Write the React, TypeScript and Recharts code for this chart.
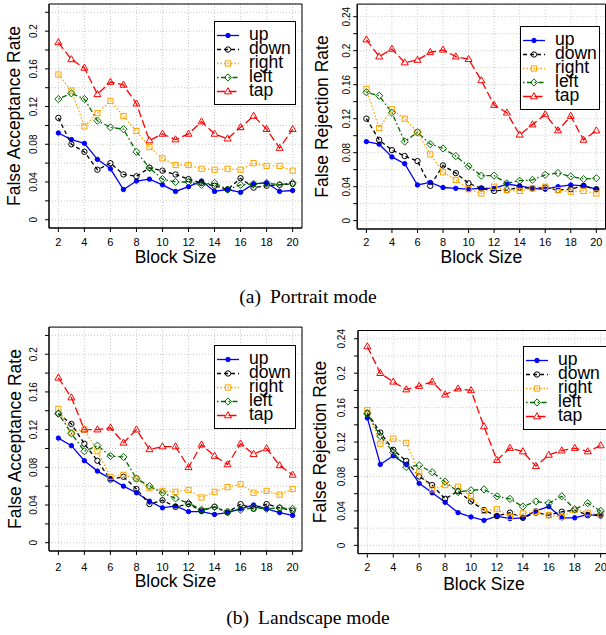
import React from "react";
import { LineChart, Line, XAxis, YAxis, CartesianGrid, Legend, ReferenceArea } from "recharts";

const blockSizes = [2, 3, 4, 5, 6, 7, 8, 9, 10, 11, 12, 13, 14, 15, 16, 17, 18, 19, 20];
const xTicks = [2, 4, 6, 8, 10, 12, 14, 16, 18, 20];

const farTicks = [0, 0.02, 0.04, 0.06, 0.08, 0.1, 0.12, 0.14, 0.16, 0.18, 0.2, 0.22];
const farLabels = [0, 0.04, 0.08, 0.12, 0.16, 0.2];
const frrTicks = [0, 0.02, 0.04, 0.06, 0.08, 0.1, 0.12, 0.14, 0.16, 0.18, 0.2, 0.22, 0.24];
const frrLabels = [0, 0.04, 0.08, 0.12, 0.16, 0.2, 0.24];

// (a) portrait - false acceptance
const farPortraitUp = [0.092, 0.085, 0.081, 0.064, 0.054, 0.032, 0.041, 0.043, 0.037, 0.030, 0.035, 0.041, 0.030, 0.032, 0.029, 0.038, 0.039, 0.030, 0.031];
const farPortraitDown = [0.108, 0.080, 0.072, 0.053, 0.060, 0.048, 0.046, 0.055, 0.052, 0.048, 0.043, 0.039, 0.036, 0.032, 0.044, 0.034, 0.036, 0.037, 0.038];
const farPortraitRight = [0.154, 0.137, 0.099, 0.113, 0.126, 0.110, 0.094, 0.077, 0.065, 0.058, 0.058, 0.054, 0.053, 0.054, 0.053, 0.060, 0.057, 0.057, 0.052];
const farPortraitLeft = [0.128, 0.134, 0.128, 0.105, 0.098, 0.096, 0.072, 0.055, 0.043, 0.040, 0.040, 0.037, 0.039, 0.032, 0.037, 0.038, 0.039, 0.037, 0.039];
const farPortraitTap = [0.188, 0.170, 0.161, 0.133, 0.146, 0.143, 0.123, 0.084, 0.091, 0.085, 0.091, 0.104, 0.091, 0.086, 0.098, 0.110, 0.096, 0.076, 0.096];

// (a) portrait - false rejection
const frrPortraitUp = [0.093, 0.090, 0.075, 0.067, 0.042, 0.045, 0.039, 0.038, 0.037, 0.038, 0.038, 0.043, 0.041, 0.038, 0.037, 0.040, 0.042, 0.041, 0.037];
const frrPortraitDown = [0.120, 0.095, 0.083, 0.076, 0.070, 0.041, 0.065, 0.056, 0.044, 0.038, 0.035, 0.036, 0.039, 0.038, 0.039, 0.036, 0.037, 0.041, 0.037];
const frrPortraitRight = [0.155, 0.109, 0.131, 0.120, 0.104, 0.078, 0.057, 0.048, 0.037, 0.032, 0.040, 0.036, 0.035, 0.038, 0.040, 0.036, 0.034, 0.035, 0.032];
const frrPortraitLeft = [0.151, 0.147, 0.127, 0.093, 0.104, 0.090, 0.085, 0.076, 0.064, 0.053, 0.053, 0.044, 0.047, 0.048, 0.054, 0.056, 0.052, 0.049, 0.050];
const frrPortraitTap = [0.213, 0.193, 0.202, 0.186, 0.189, 0.198, 0.201, 0.193, 0.190, 0.165, 0.136, 0.127, 0.101, 0.113, 0.125, 0.106, 0.123, 0.095, 0.106];

// (b) landscape - false acceptance
const farLandUp = [0.111, 0.103, 0.087, 0.076, 0.068, 0.060, 0.053, 0.044, 0.037, 0.039, 0.033, 0.033, 0.030, 0.032, 0.036, 0.040, 0.036, 0.032, 0.029];
const farLandDown = [0.137, 0.126, 0.105, 0.087, 0.067, 0.070, 0.057, 0.041, 0.045, 0.038, 0.041, 0.034, 0.038, 0.032, 0.041, 0.036, 0.041, 0.037, 0.034];
const farLandRight = [0.142, 0.117, 0.120, 0.097, 0.070, 0.072, 0.068, 0.058, 0.055, 0.054, 0.056, 0.048, 0.054, 0.059, 0.062, 0.053, 0.055, 0.051, 0.057];
const farLandLeft = [0.137, 0.116, 0.097, 0.103, 0.092, 0.091, 0.068, 0.060, 0.053, 0.047, 0.042, 0.035, 0.038, 0.033, 0.035, 0.037, 0.036, 0.037, 0.036];
const farLandTap = [0.175, 0.154, 0.120, 0.120, 0.122, 0.106, 0.120, 0.099, 0.102, 0.102, 0.080, 0.104, 0.092, 0.083, 0.105, 0.094, 0.100, 0.082, 0.072];

// (b) landscape - false rejection
const frrLandUp = [0.148, 0.094, 0.104, 0.094, 0.072, 0.061, 0.050, 0.038, 0.033, 0.029, 0.034, 0.031, 0.032, 0.040, 0.045, 0.032, 0.032, 0.036, 0.034];
const frrLandDown = [0.154, 0.131, 0.111, 0.098, 0.080, 0.070, 0.054, 0.063, 0.051, 0.041, 0.034, 0.038, 0.032, 0.038, 0.035, 0.039, 0.041, 0.035, 0.036];
const frrLandRight = [0.157, 0.118, 0.124, 0.119, 0.085, 0.065, 0.070, 0.068, 0.057, 0.040, 0.042, 0.033, 0.037, 0.039, 0.035, 0.033, 0.041, 0.038, 0.036];
const frrLandLeft = [0.153, 0.127, 0.108, 0.091, 0.093, 0.085, 0.074, 0.062, 0.064, 0.065, 0.057, 0.054, 0.045, 0.051, 0.049, 0.057, 0.042, 0.049, 0.040];
const frrLandTap = [0.231, 0.200, 0.190, 0.181, 0.185, 0.190, 0.175, 0.182, 0.180, 0.138, 0.099, 0.113, 0.109, 0.092, 0.105, 0.110, 0.113, 0.109, 0.116];

const SERIES = [
    { key: "up", color: "#0000FF", dash: undefined, shape: "dot" },
    { key: "down", color: "#000000", dash: "4 3", shape: "circle" },
    { key: "right", color: "#FFA500", dash: "1.5 2", shape: "square" },
    { key: "left", color: "#006a00", dash: "1.5 2.5 5 2.5", shape: "diamond" },
    { key: "tap", color: "#FF0000", dash: "8 3.5", shape: "triangle" },
];

const buildRows = (up: number[], down: number[], right: number[], left: number[], tap: number[]) =>
    blockSizes.map((b, i) => ({ block: b, up: up[i], down: down[i], right: right[i], left: left[i], tap: tap[i] }));

const Marker = ({ cx, cy, shape, color }: { cx: number; cy: number; shape: string; color: string }) => {
    if (cx == null || cy == null) return null;
    switch (shape) {
        case "dot":
            return <circle cx={cx} cy={cy} r={2.2} fill={color} stroke={color} />;
        case "circle":
            return <circle cx={cx} cy={cy} r={2.7} fill="none" stroke={color} strokeWidth={1} />;
        case "square":
            return <rect x={cx - 2.6} y={cy - 2.6} width={5.2} height={5.2} fill="none" stroke={color} strokeWidth={1} />;
        case "diamond":
            return <polygon points={`${cx},${cy - 3.6} ${cx + 3.6},${cy} ${cx},${cy + 3.6} ${cx - 3.6},${cy}`} fill="none" stroke={color} strokeWidth={1} />;
        default:
            return <polygon points={`${cx},${cy - 3.8} ${cx + 3.5},${cy + 2.3} ${cx - 3.5},${cy + 2.3}`} fill="none" stroke={color} strokeWidth={1} />;
    }
};

const LegendBox = ({ width }: { width: number }) => (
    <svg width={width} height={84} style={{ display: "block" }}>
        <rect x={0.5} y={0.5} width={width - 1} height={83} fill="#fff" stroke="#000" />
        {SERIES.map((s, i) => {
            const y = 14.5 + i * 14;
            return (
                <g key={s.key}>
                    <line x1={3} x2={25} y1={y} y2={y} stroke={s.color} strokeWidth={1.3} strokeDasharray={s.dash} />
                    <Marker cx={14} cy={y} shape={s.shape} color={s.color} />
                    <text x={35} y={y + 4.6} fontSize={17.5} fill="#000">{s.key}</text>
                </g>
            );
        })}
    </svg>
);

const YTick = (props: any) => {
    const { y, payload, labels, tx } = props;
    if (!labels.includes(payload.value)) return <g />;
    return (
        <text x={tx} y={y} dy="0.355em" textAnchor="middle" fontSize={10} fill="#000" transform={`rotate(-90 ${tx} ${y})`}>
            {String(payload.value)}
        </text>
    );
};

const panels = [
    {
        id: "a-far", left: 0, top: 0, width: 303, height: 275, margin: { top: 4, right: 1, bottom: 0, left: 0 }, yWidth: 49, xHeight: 47,
        yDomain: [-0.0088, 0.2288], ticks: farTicks, labels: farLabels, yTickX: 33.8, yTitleX: 13.5,
        xTickMargin: 6.4, xLabelOffset: 11.7, legend: { left: 214, top: 21, width: 82 },
        title: "False Acceptance Rate",
        data: buildRows(farPortraitUp, farPortraitDown, farPortraitRight, farPortraitLeft, farPortraitTap),
    },
    {
        id: "a-frr", left: 303, top: 0, width: 303, height: 275, margin: { top: 4.1, right: 0.5, bottom: 0, left: 0 }, yWidth: 54.2, xHeight: 46,
        yDomain: [-0.0098, 0.2548], ticks: frrTicks, labels: frrLabels, yTickX: 43.3, yTitleX: 19.2,
        xTickMargin: 5.4, xLabelOffset: 11.7, legend: { left: 216.7, top: 25.7, width: 80 },
        title: "False Rejection Rate",
        data: buildRows(frrPortraitUp, frrPortraitDown, frrPortraitRight, frrPortraitLeft, frrPortraitTap),
    },
    {
        id: "b-far", left: 0, top: 320, width: 303, height: 280, margin: { top: 7.1, right: 1, bottom: 0, left: 0 }, yWidth: 49, xHeight: 49,
        yDomain: [-0.0088, 0.2288], ticks: farTicks, labels: farLabels, yTickX: 33.7, yTitleX: 14.5,
        xTickMargin: 7.8, xLabelOffset: 13.3, legend: { left: 214.3, top: 25, width: 82 },
        title: "False Acceptance Rate",
        data: buildRows(farLandUp, farLandDown, farLandRight, farLandLeft, farLandTap),
    },
    {
        id: "b-frr", left: 303, top: 320, width: 310, height: 280, margin: { top: 10.5, right: 3, bottom: 0, left: 0 }, yWidth: 55, xHeight: 46.4,
        yDomain: [-0.0096, 0.2496], ticks: frrTicks, labels: frrLabels, yTickX: 38.2, yTitleX: 17,
        xTickMargin: 5.8, xLabelOffset: 10, legend: { left: 220, top: 26, width: 92 },
        title: "False Rejection Rate",
        data: buildRows(frrLandUp, frrLandDown, frrLandRight, frrLandLeft, frrLandTap),
    },
];

const Panel = ({ p }: { p: any }) => (
    <div style={{ position: "absolute", left: p.left, top: p.top }}>
        <LineChart width={p.width} height={p.height} data={p.data} margin={p.margin}>
            <CartesianGrid stroke="#c8c8c8" strokeDasharray="1 2" />
            <XAxis
                dataKey="block" type="number" domain={[1.28, 20.72]} ticks={xTicks} interval={0}
                height={p.xHeight} tickSize={4} tickMargin={p.xTickMargin}
                stroke="#000" tick={{ fill: "#000", fontSize: 11 }}
                label={{ value: "Block Size", position: "insideBottom", offset: p.xLabelOffset, fill: "#000", fontSize: 17.5 }}
            />
            <YAxis
                type="number" domain={p.yDomain} ticks={p.ticks} interval={0} width={p.yWidth} tickSize={4}
                stroke="#000" tick={(t: any) => <YTick {...t} labels={p.labels} tx={p.yTickX} />}
                label={{ value: p.title, angle: -90, position: "insideLeft", offset: p.yTitleX, fill: "#000", fontSize: 17.5, style: { textAnchor: "middle" } }}
            />
            <ReferenceArea x1={1.28} x2={20.72} y1={p.yDomain[0]} y2={p.yDomain[1]} fill="none" stroke="#000" strokeWidth={1} ifOverflow="visible" />
            {SERIES.map((s) => (
                <Line
                    key={s.key}
                    dataKey={s.key}
                    stroke={s.color}
                    strokeWidth={1.3}
                    strokeDasharray={s.dash}
                    isAnimationActive={false}
                    dot={(d: any) => <Marker key={`${s.key}-${d.index}`} cx={d.cx} cy={d.cy} shape={s.shape} color={s.color} />}
                    activeDot={false}
                />
            ))}
            <Legend
                layout="vertical" align="center" verticalAlign="middle"
                wrapperStyle={{ left: p.legend.left, top: p.legend.top, width: p.legend.width, height: 84 }}
                content={() => <LegendBox width={p.legend.width} />}
            />
        </LineChart>
    </div>
);

const Caption = ({ tag, text, top }: { tag: string; text: string; top: number }) => (
    <div style={{ position: "absolute", left: 0, top, width: 616, textAlign: "center", fontFamily: "'Liberation Serif', 'Times New Roman', serif", fontSize: 19.5, lineHeight: "20px", whiteSpace: "nowrap" }}>
        <span style={{ marginRight: 9 }}>{tag}</span>
        <span>{text}</span>
    </div>
);

export default function App() {
    return (
        <div style={{ position: "absolute", left: 0, top: 0, width: 606, height: 635, overflow: "hidden", background: "#fff", fontFamily: "'Liberation Sans', Arial, Helvetica, sans-serif" }}>
            {panels.map((p) => <Panel key={p.id} p={p} />)}
            <Caption tag="(a)" text="Portrait mode" top={287} />
            <Caption tag="(b)" text="Landscape mode" top={608} />
        </div>
    );
}
